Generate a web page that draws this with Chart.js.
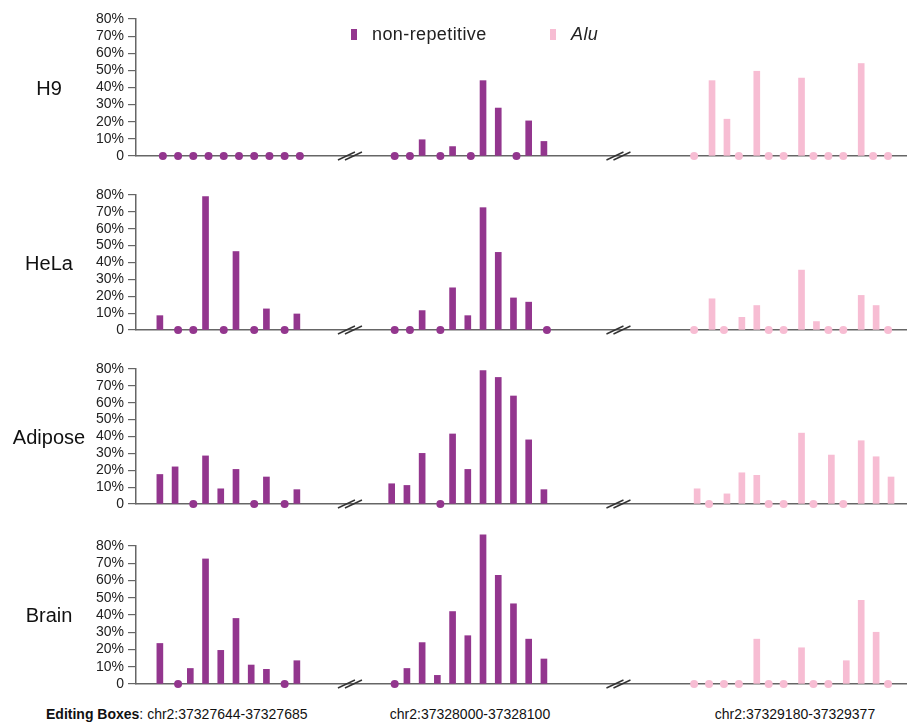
<!DOCTYPE html>
<html><head><meta charset="utf-8">
<script src="https://cdn.jsdelivr.net/npm/chart.js@4"></script>
<style>
html,body{margin:0;padding:0;}
body{width:910px;height:723px;background:#fff;position:relative;overflow:hidden;font-family:"Liberation Sans",Arial,Helvetica,sans-serif;color:#111;}
.panel{position:absolute;left:0;width:910px;}
.panel canvas{display:block;}
.lab{position:absolute;font-size:20px;color:#111;transform:translate(-50%,-50%);white-space:nowrap;}
.leg{position:absolute;font-size:18px;color:#222;white-space:nowrap;transform:translateY(-50%);letter-spacing:0.4px;}
.sw{position:absolute;width:6px;height:11px;}
.bot{position:absolute;font-size:14px;color:#111;white-space:nowrap;top:706px;}
</style></head><body>

<script>
// ---- data (percent editing per site) ----
const samples = ['H9', 'HeLa', 'Adipose', 'Brain'];
const boxLabels = ['chr2:37327644-37327685', 'chr2:37328000-37328100', 'chr2:37329180-37329377'];
const yTicks = [0, 10, 20, 30, 40, 50, 60, 70, 80];

const H9_box1 = [0, 0, 0, 0, 0, 0, 0, 0, 0, 0];
const H9_box2 = [0, 0, 9.5, 0, 5.5, 0, 44, 28, 0, 20.5, 8.5];
const H9_alu  = [0, 44, 21.5, 0, 49.5, 0, 0, 45.5, 0, 0, 0, 54, 0, 0];

const HeLa_box1 = [8.5, 0, 0, 79, 0, 46.5, 0, 12.5, 0, 9.5];
const HeLa_box2 = [0, 0, 11.5, 0, 25, 8.5, 72.5, 46, 19, 16.5, 0];
const HeLa_alu  = [0, 18.5, 0, 7.5, 14.5, 0, 0, 35.5, 5, 0, 0, 20.5, 14.5, 0];

const Adipose_box1 = [17.5, 22, 0, 28.5, 9, 20.5, 0, 16, 0, 8.5];
const Adipose_box2 = [12, 11, 30, 0, 41.5, 20.5, 79, 75, 64, 38, 8.5];
const Adipose_alu  = [9, 0, 6, 18.5, 17, 0, 0, 42, 0, 29, 0, 37.5, 28, 16];

const Brain_box1 = [23.5, 0, 9, 72.5, 19.5, 38, 11, 8.5, 0, 13.5];
const Brain_box2 = [0, 9, 24, 5, 42, 28, 86.5, 63, 46.5, 26, 14.5];
const Brain_alu  = [0, 0, 0, 0, 26, 0, 0, 21, 0, 0, 13.5, 48.5, 30, 0];

const sampleData = {
  H9: [H9_box1, H9_box2, H9_alu],
  HeLa: [HeLa_box1, HeLa_box2, HeLa_alu],
  Adipose: [Adipose_box1, Adipose_box2, Adipose_alu],
  Brain: [Brain_box1, Brain_box2, Brain_alu]
};

// ---- layout / style ----
const PURPLE = '#93368E';
const PINK = '#F7BDD3';
const AXIS = '#666';
const groupStart = [0, 15.23, 34.9];
const groupStep = [1, 1, 0.98];
const breaksAt = [12.29, 29.93];
const xMin = -1.765, xMax = 48.82;
const panels = [
  {top: 0,   h: 175, pt: 19, pb: 19},
  {top: 175, h: 175, pt: 20, pb: 20},
  {top: 350, h: 175, pt: 19, pb: 21},
  {top: 525, h: 175, pt: 21, pb: 16}
];

const breakPlugin = {
  id: 'breaks',
  afterDraw(chart) {
    const ctx = chart.ctx, xs = chart.scales.x, ys = chart.scales.y;
    const y = ys.getPixelForValue(0);
    ctx.save();
    ctx.strokeStyle = '#333';
    ctx.lineWidth = 1.4;
    breaksAt.forEach(b => {
      const c = xs.getPixelForValue(b);
      for (let k = 0; k < 2; k++) {
        ctx.beginPath();
        ctx.moveTo(c - 12 + 7 * k, y + 4);
        ctx.lineTo(c + 5 + 7 * k, y - 4);
        ctx.stroke();
      }
    });
    ctx.restore();
  }
};

function pts(arr, g, keepZero) {
  const out = [];
  arr.forEach((v, i) => {
    const x = groupStart[g] + i * groupStep[g];
    if (keepZero ? v === 0 : v !== 0) out.push({x: x, y: keepZero ? 0 : v});
  });
  return out;
}

samples.forEach((name, idx) => {
  const p = panels[idx];
  const div = document.createElement('div');
  div.className = 'panel';
  div.style.top = p.top + 'px';
  div.style.height = p.h + 'px';
  const cv = document.createElement('canvas');
  cv.width = 910;
  cv.height = p.h;
  cv.style.width = '910px';
  cv.style.height = p.h + 'px';
  div.appendChild(cv);
  document.body.appendChild(div);

  const [b1, b2, alu] = sampleData[name];
  const purpleBars = pts(b1, 0, false).concat(pts(b2, 1, false));
  const pinkBars = pts(alu, 2, false);
  const purpleZeros = pts(b1, 0, true).concat(pts(b2, 1, true));
  const pinkZeros = pts(alu, 2, true);

  new Chart(cv, {
    type: 'bar',
    data: {
      datasets: [
        {type: 'bar', label: 'non-repetitive', data: purpleBars, backgroundColor: PURPLE, barThickness: 6, borderWidth: 0, clip: false},
        {type: 'bar', label: 'Alu', data: pinkBars, backgroundColor: PINK, barThickness: 6, borderWidth: 0, clip: false},
        {type: 'scatter', data: purpleZeros, pointRadius: 4, pointBackgroundColor: PURPLE, pointBorderWidth: 0, clip: false},
        {type: 'scatter', data: pinkZeros, pointRadius: 4, pointBackgroundColor: PINK, pointBorderWidth: 0, clip: false}
      ]
    },
    options: {
      responsive: false,
      devicePixelRatio: 1,
      animation: false,
      events: [],
      layout: {padding: {top: p.pt, bottom: p.pb, left: 0, right: 0}},
      plugins: {legend: {display: false}, tooltip: {enabled: false}},
      scales: {
        x: {
          type: 'linear', min: xMin, max: xMax, offset: false,
          grid: {display: false},
          ticks: {display: false},
          border: {display: true, color: AXIS, width: 1.5},
          afterFit: s => { s.height = 0; }
        },
        y: {
          min: 0, max: 80,
          afterBuildTicks: s => { s.ticks = yTicks.map(v => ({value: v})); },
          ticks: {
            callback: v => v === 0 ? '0' : v + '%',
            color: '#222', padding: 4, autoSkip: false,
            font: {family: '"Liberation Sans", Arial, sans-serif', size: 14}
          },
          grid: {drawOnChartArea: false, drawTicks: true, tickLength: 8, color: AXIS, lineWidth: 1.2},
          border: {display: true, color: AXIS, width: 1.5},
          afterFit: s => { s.width = 136; }
        }
      }
    },
    plugins: [breakPlugin]
  });

  const lab = document.createElement('div');
  lab.className = 'lab';
  lab.textContent = name;
  lab.style.left = '49px';
  lab.style.top = (p.top + p.pt + (p.h - p.pt - p.pb) * 0.5) + 'px';
  document.body.appendChild(lab);
});

// legend
(function () {
  const items = [
    {color: PURPLE, text: 'non-repetitive', x: 351, italic: false},
    {color: PINK, text: 'Alu', x: 550, italic: true}
  ];
  items.forEach(it => {
    const s = document.createElement('div');
    s.className = 'sw';
    s.style.left = it.x + 'px';
    s.style.top = '29px';
    s.style.background = it.color;
    document.body.appendChild(s);
    const t = document.createElement('div');
    t.className = 'leg';
    t.style.left = (it.x + 21) + 'px';
    t.style.top = '34px';
    if (it.italic) t.style.fontStyle = 'italic';
    t.textContent = it.text;
    document.body.appendChild(t);
  });
})();

// bottom labels
(function () {
  const a = document.createElement('div');
  a.className = 'bot';
  a.style.left = '46px';
  a.innerHTML = '<b>Editing Boxes</b>: ' + boxLabels[0];
  document.body.appendChild(a);
  [470, 795].forEach((cx, i) => {
    const d = document.createElement('div');
    d.className = 'bot';
    d.style.left = cx + 'px';
    d.style.transform = 'translateX(-50%)';
    d.textContent = boxLabels[i + 1];
    document.body.appendChild(d);
  });
})();
</script>
</body></html>
